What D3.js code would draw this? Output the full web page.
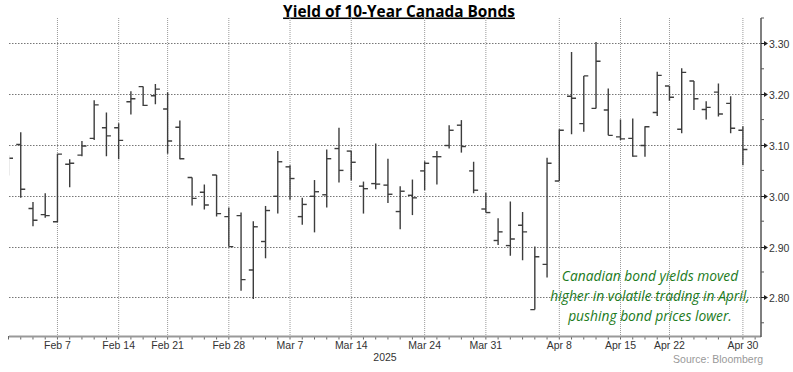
<!DOCTYPE html>
<html>
<head>
<meta charset="utf-8">
<script src="https://cdn.jsdelivr.net/npm/d3@7"></script>
<style>
  body { margin: 0; background: #fff; }
  text { font-family: "Liberation Sans", Arial, sans-serif; }
</style>
</head>
<body>
<div id="chart"></div>
<script>
// trading days, Feb 3 - Apr 30 2025
var dates = ['2025-02-03','2025-02-04','2025-02-05','2025-02-06','2025-02-07',
    '2025-02-10','2025-02-11','2025-02-12','2025-02-13','2025-02-14',
    '2025-02-18','2025-02-19','2025-02-20','2025-02-21',
    '2025-02-24','2025-02-25','2025-02-26','2025-02-27','2025-02-28',
    '2025-03-03','2025-03-04','2025-03-05','2025-03-06','2025-03-07',
    '2025-03-10','2025-03-11','2025-03-12','2025-03-13','2025-03-14',
    '2025-03-17','2025-03-18','2025-03-19','2025-03-20','2025-03-21',
    '2025-03-24','2025-03-25','2025-03-26','2025-03-27','2025-03-28',
    '2025-03-31','2025-04-01','2025-04-02','2025-04-03','2025-04-04',
    '2025-04-07','2025-04-08','2025-04-09','2025-04-10','2025-04-11',
    '2025-04-14','2025-04-15','2025-04-16','2025-04-17',
    '2025-04-21','2025-04-22','2025-04-23','2025-04-24','2025-04-25',
    '2025-04-28','2025-04-29','2025-04-30'];

var openYld = [3.060, 3.101, 2.975, 2.963, 2.949, 3.062, 3.080, 3.113, 3.134, 3.134,
    3.185, 3.215, 3.197, 3.171, 3.135, 3.036, 3.007, 3.041, 2.959, 2.961,
    2.854, 2.910, 2.999, 3.057, 2.959, 2.999, 3.002, 3.093, 3.088, 3.019,
    3.024, 3.021, 2.969, 3.001, 3.049, 3.077, 3.099, 3.139, 3.049, 2.974,
    2.912, 2.902, 2.942, 2.776, 2.865, 3.029, 3.196, 3.142, 3.172, 3.169,
    3.116, 3.113, 3.099, 3.164, 3.216, 3.131, 3.226, 3.170, 3.204, 3.182, 3.129];
var highYld = [3.080, 3.125, 2.988, 3.005, 3.083, 3.072, 3.108, 3.188, 3.164, 3.143,
    3.206, 3.215, 3.220, 3.204, 3.148, 3.036, 3.022, 3.041, 2.977, 2.967,
    2.950, 2.980, 3.088, 3.060, 2.996, 3.031, 3.091, 3.134, 3.088, 3.028,
    3.103, 3.073, 3.019, 3.032, 3.068, 3.088, 3.139, 3.149, 3.067, 3.006,
    2.956, 2.989, 2.968, 2.900, 3.075, 3.131, 3.283, 3.236, 3.303, 3.211,
    3.150, 3.152, 3.137, 3.244, 3.216, 3.251, 3.226, 3.186, 3.221, 3.196, 3.137];
var lowYld = [3.040, 2.996, 2.940, 2.957, 2.948, 3.017, 3.078, 3.110, 3.078, 3.072,
    3.160, 3.177, 3.180, 3.083, 3.072, 2.981, 2.973, 2.959, 2.900, 2.813,
    2.797, 2.877, 2.965, 2.992, 2.943, 2.928, 2.977, 3.026, 3.030, 2.965,
    3.013, 2.986, 2.934, 2.962, 3.011, 3.022, 3.093, 3.085, 3.005, 2.967,
    2.903, 2.882, 2.873, 2.776, 2.839, 3.029, 3.121, 3.126, 3.172, 3.119,
    3.110, 3.077, 3.077, 3.157, 3.187, 3.123, 3.169, 3.150, 3.156, 3.123, 3.060];
var closeYld = [3.074, 3.013, 2.952, 2.961, 3.082, 3.064, 3.098, 3.179, 3.118, 3.109,
    3.191, 3.178, 3.210, 3.108, 3.073, 2.995, 2.982, 2.965, 2.900, 2.835,
    2.939, 2.971, 3.067, 3.034, 2.983, 3.008, 3.073, 3.050, 3.066, 3.014,
    3.023, 3.003, 3.009, 2.996, 3.064, 3.077, 3.129, 3.097, 3.011, 2.967,
    2.929, 2.915, 2.929, 2.880, 3.064, 3.129, 3.192, 3.236, 3.265, 3.119,
    3.112, 3.078, 3.136, 3.237, 3.194, 3.243, 3.191, 3.174, 3.161, 3.133, 3.091];

var labelDates = ['2025-02-07','2025-02-14','2025-02-21','2025-02-28','2025-03-07','2025-03-14',
    '2025-03-24','2025-03-31','2025-04-08','2025-04-15','2025-04-22','2025-04-30'];
var yTicks = [2.80, 2.90, 3.00, 3.10, 3.20, 3.30];
var yMinorTicks = [2.75, 2.85, 2.95, 3.05, 3.15, 3.25, 3.35];

var noteLines = ['Canadian bond yields moved', 'higher in volatile trading in April,', 'pushing bond prices lower.'];

var svgwidth = 793;
var svgheight = 372;
var plotLeft = 9, plotRight = 761, plotTop = 18, plotBottom = 336;

var bars = dates.map((d, i) => ({ i: i, date: d, o: openYld[i], h: highYld[i], l: lowYld[i], c: closeYld[i] }));

var svg = d3.select('#chart')
    .append('svg')
    .attr('width', svgwidth)
    .attr('height', svgheight);

// one step per trading day; the axis keeps one extra tick past the last bar
var xscale = d3.scaleLinear()
    .domain([0, dates.length - 1])
    .range([8.5, 742.9]);

var yscale = d3.scaleLinear()
    .domain([2.724, 3.35])
    .range([plotBottom, plotTop]);

// title
svg.append('text')
    .attr('x', 399)
    .attr('y', 16.5)
    .style('text-anchor', 'middle')
    .style('font-family', '"Open Sans", sans-serif')
    .style('font-weight', 'bold')
    .style('font-size', '15.4px')
    .style('text-decoration', 'underline')
    .attr('fill', '#000')
    .text('Yield of 10-Year Canada Bonds');

// grid
svg.append('g')
    .selectAll('line')
    .data(yTicks)
    .join('line')
    .attr('x1', plotLeft)
    .attr('x2', plotRight)
    .attr('y1', d => Math.round(yscale(d)) + 0.5)
    .attr('y2', d => Math.round(yscale(d)) + 0.5)
    .attr('stroke', '#777')
    .attr('stroke-dasharray', '1.5,1.5');

var idx = labelDates.map(d => dates.indexOf(d));

svg.append('g')
    .selectAll('line')
    .data(idx)
    .join('line')
    .attr('x1', d => xscale(d))
    .attr('x2', d => xscale(d))
    .attr('y1', plotTop)
    .attr('y2', plotBottom)
    .attr('stroke', '#999')
    .attr('stroke-dasharray', '1,1');

// OHLC bars
svg.append('clipPath')
    .attr('id', 'plot-clip')
    .append('rect')
    .attr('x', plotLeft + 0.5)
    .attr('y', 0)
    .attr('width', plotRight - plotLeft)
    .attr('height', plotBottom);

var g = svg.append('g')
    .attr('clip-path', 'url(#plot-clip)')
    .attr('stroke', '#3d3d3d')
    .attr('stroke-width', 1.4);

var bar = g.selectAll('g')
    .data(bars)
    .join('g');

bar.append('line')
    .attr('x1', d => xscale(d.i))
    .attr('x2', d => xscale(d.i))
    .attr('y1', d => yscale(d.h))
    .attr('y2', d => yscale(d.l));

bar.append('line')
    .attr('x1', d => xscale(d.i) - 4.5)
    .attr('x2', d => xscale(d.i))
    .attr('y1', d => yscale(d.o))
    .attr('y2', d => yscale(d.o));

bar.append('line')
    .attr('x1', d => xscale(d.i))
    .attr('x2', d => xscale(d.i) + 4.5)
    .attr('y1', d => yscale(d.c))
    .attr('y2', d => yscale(d.c));

// x axis
var tickIdx = d3.range(dates.length + 1);
svg.append('g')
    .selectAll('line')
    .data(tickIdx)
    .join('line')
    .attr('x1', d => xscale(d))
    .attr('x2', d => xscale(d))
    .attr('y1', plotBottom)
    .attr('y2', plotBottom + 3.5)
    .attr('stroke', '#666')
    .attr('stroke-width', 1);

svg.append('line')
    .attr('x1', plotLeft)
    .attr('x2', plotRight)
    .attr('y1', plotBottom + 0.5)
    .attr('y2', plotBottom + 0.5)
    .attr('stroke', '#999')
    .attr('stroke-width', 2);

var fmt = d3.timeFormat('%b %-d');
var parse = d3.timeParse('%Y-%m-%d');

svg.append('g')
    .selectAll('text')
    .data(labelDates)
    .join('text')
    .attr('x', d => xscale(dates.indexOf(d)))
    .attr('y', 348.5)
    .style('text-anchor', 'middle')
    .style('font-size', '10.5px')
    .attr('fill', '#333')
    .text(d => fmt(parse(d)));

svg.append('text')
    .attr('x', 385)
    .attr('y', 360.5)
    .style('text-anchor', 'middle')
    .style('font-size', '10.5px')
    .attr('fill', '#333')
    .text('2025');

svg.append('text')
    .attr('x', 763)
    .attr('y', 363)
    .style('text-anchor', 'end')
    .style('font-size', '10.5px')
    .attr('fill', '#999')
    .text('Source: Bloomberg');

// y axis on the right
svg.append('line')
    .attr('x1', plotRight)
    .attr('x2', plotRight)
    .attr('y1', yscale(3.35))
    .attr('y2', plotBottom + 1)
    .attr('stroke', '#555')
    .attr('stroke-width', 1.5);

svg.append('g')
    .selectAll('line')
    .data(yMinorTicks)
    .join('line')
    .attr('x1', plotRight)
    .attr('x2', plotRight + 3)
    .attr('y1', d => yscale(d))
    .attr('y2', d => yscale(d))
    .attr('stroke', '#555')
    .attr('stroke-width', 1);

var yt = svg.append('g')
    .selectAll('g')
    .data(yTicks)
    .join('g')
    .attr('transform', d => `translate(${plotRight}, ${Math.round(yscale(d)) + 0.5})`);

yt.append('path')
    .attr('d', 'M0,-0.5 L3,-0.5 L3,-2.5 L7,0 L3,2.5 L3,0.5 L0,0.5 Z')
    .attr('fill', '#222');

yt.append('text')
    .attr('x', 8)
    .attr('y', 4)
    .style('font-size', '10.5px')
    .attr('fill', '#333')
    .text(d => d.toFixed(2));

// note
svg.append('g')
    .selectAll('text')
    .data(noteLines)
    .join('text')
    .attr('x', 650)
    .attr('y', (d, i) => 281 + i * 20)
    .style('text-anchor', 'middle')
    .style('font-family', '"Open Sans", sans-serif')
    .style('font-style', 'italic')
    .style('font-size', '13.8px')
    .attr('fill', '#1b7a1b')
    .text(d => d);
</script>
</body>
</html>
